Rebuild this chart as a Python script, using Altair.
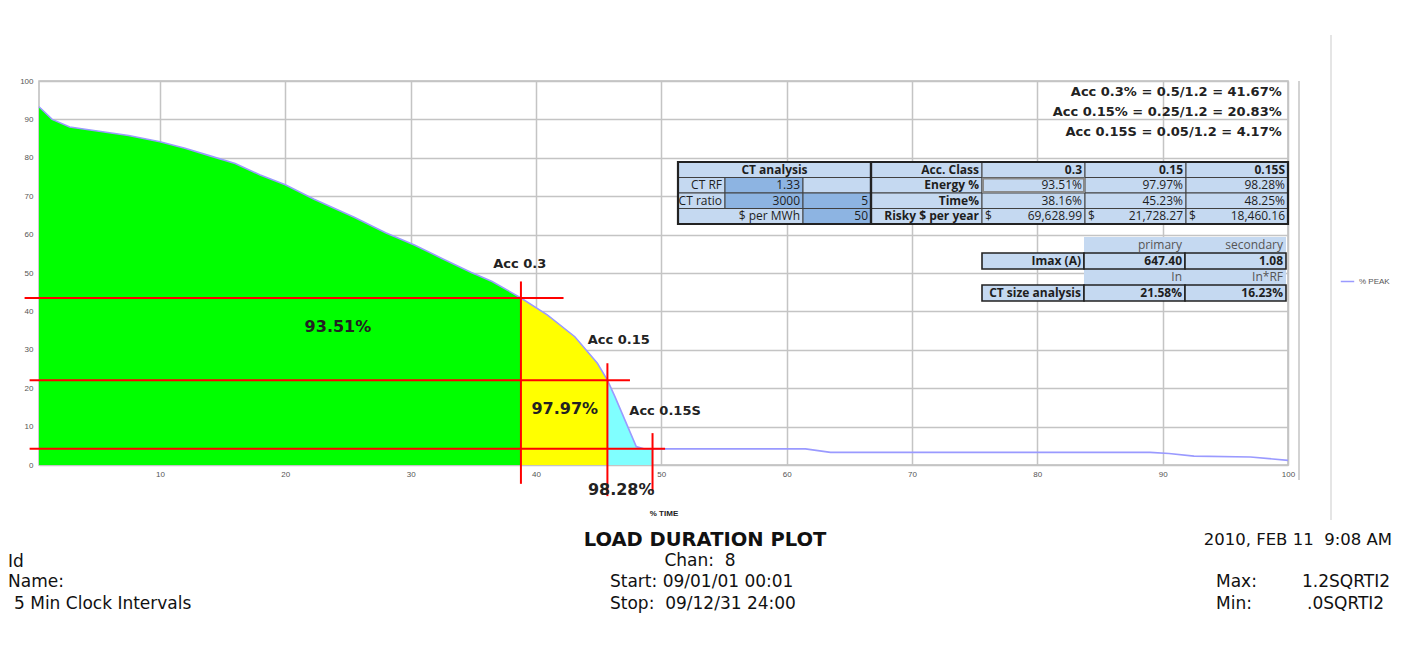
import altair as alt
import pandas as pd

# ---------------- data ----------------
pct_time = [0.35, 1.4, 2.8, 5, 7.5, 10, 12, 14, 16, 18, 20, 22.3, 25.5, 28, 30.3, 32.5,
            34.8, 36.5, 38.8, 40.9, 43.1, 44.9, 45.7, 46.3, 47.1, 48.0, 48.6, 49.3,
            60, 61.5, 63.5, 89, 90.5, 92.5, 97, 100]
pct_peak = [93.3, 90, 88, 87, 85.8, 84.2, 82.5, 80.5, 78.5, 75.5, 73, 69.2, 64.5, 60.5, 57.3, 53.8,
            50.2, 47.8, 43.5, 39.1, 33.4, 26.5, 22.1, 17.8, 11.7, 4.8, 4.2, 4.2,
            4.2, 4.2, 3.3, 3.3, 3.0, 2.3, 2.1, 1.2]

seg_names = ["Acc 0.3", "Acc 0.15", "Acc 0.15S"]
seg_start = [0.35, 38.8, 45.7]
seg_end = [38.8, 45.7, 49.3]
seg_colors = ["#00ff00", "#ffff00", "#80ffff"]

hline_y = [43.5, 22.1, 4.2]
hline_x0 = [-0.8, -0.4, -0.4]
hline_x1 = [42.2, 47.5, 50.3]
vline_x = [38.8, 45.7, 49.3]
vline_y0 = [47.8, 26.5, 8.3]
vline_y1 = [-4.9, -8.1, -6.8]

acc_labels = ["Acc 0.3", "Acc 0.15", "Acc 0.15S"]
acc_label_x = [38.7, 46.6, 50.3]
acc_label_y = [52.3, 32.6, 14.1]
energy_labels = ["93.51%", "97.97%", "98.28%"]
energy_label_x = [24.2, 42.3, 46.8]
energy_label_y = [35.9, 14.6, -6.5]

formula_lines = ["Acc 0.3% = 0.5/1.2 = 41.67%",
                 "Acc 0.15% = 0.25/1.2 = 20.83%",
                 "Acc 0.15S = 0.05/1.2 = 4.17%"]
formula_y = [97.1, 91.9, 86.7]

# table 1 content
t1_acc_classes = ["0.3", "0.15", "0.15S"]
t1_energy = ["93.51%", "97.97%", "98.28%"]
t1_time = ["38.16%", "45.23%", "48.25%"]
t1_risky = ["69,628.99", "21,728.27", "18,460.16"]
ct_rf = "1.33"
ct_ratio = ["3000", "5"]
usd_per_mwh = "50"

# table 2 content
t2_head = ["primary", "secondary"]
t2_imax = ["647.40", "1.08"]
t2_sub = ["In", "In*RF"]
t2_ctsize = ["21.58%", "16.23%"]

# ---------------- layout ----------------
X0, Y0 = 39, 81                 # page position of plot origin
W, H = 1249, 384
LIGHT, DARK, TXT = "#c5d9f1", "#8db4e2", "#1e1e1e"
TFONT = "Open Sans"
NB = "\u00a0"

xs = alt.Scale(domain=[0.35, 100], nice=False, zero=False)
ys = alt.Scale(domain=[0, 100], nice=False)

x_axis = alt.Axis(values=list(range(10, 101, 10)), grid=True, gridColor="#c4c4c4", gridWidth=1.5,
                  ticks=False, domain=False, labelFontSize=8, labelColor="#555",
                  labelFont="Liberation Sans", labelPadding=5, labelOverlap=False, labelFlush=False,
                  title="% TIME", titleFontSize=8, titleFont="Liberation Sans",
                  titleFontWeight="bold", titleColor="#222", titleY=48, titleBaseline="middle")
y_axis = alt.Axis(values=list(range(0, 101, 10)), grid=True, gridColor="#c4c4c4", gridWidth=1.5,
                  ticks=False, domain=False, labelFontSize=8, labelColor="#555",
                  labelFont="Liberation Sans", labelPadding=6, labelOverlap=False, labelFlush=False,
                  title=None)
XE = alt.X("x:Q", scale=xs, axis=x_axis)
YE = alt.Y("y:Q", scale=ys, axis=y_axis, stack=None)

curve = pd.DataFrame({"x": pct_time, "y": pct_peak, "series": "% PEAK"})
seg_frames = []
for n, a, b in zip(seg_names, seg_start, seg_end):
    d = curve[(curve.x >= a) & (curve.x <= b)].copy()
    d["seg"] = n
    seg_frames.append(d)
seg_df = pd.concat(seg_frames)

areas = alt.Chart(seg_df).mark_area(opacity=1).encode(
    x=XE, y=YE,
    fill=alt.Fill("seg:N", scale=alt.Scale(domain=seg_names, range=seg_colors), legend=None),
)

line = alt.Chart(curve).mark_line(strokeWidth=1.6).encode(
    x=XE, y=YE,
    stroke=alt.Stroke("series:N", scale=alt.Scale(domain=["% PEAK"], range=["#9a9aff"]),
                      legend=alt.Legend(title=None, orient="none", legendX=1301, legendY=193,
                                        symbolType="stroke", symbolSize=180, symbolStrokeWidth=1.5,
                                        labelFontSize=8, labelColor="#555", labelFont="Liberation Sans")),
)

hl = alt.Chart(pd.DataFrame({"y": hline_y, "x": hline_x0, "x2": hline_x1})).mark_rule(
    color="#ff0000", strokeWidth=2).encode(x=XE, x2="x2:Q", y=YE)
vl = alt.Chart(pd.DataFrame({"x": vline_x, "y": vline_y0, "y2": vline_y1})).mark_rule(
    color="#ff0000", strokeWidth=2).encode(x=XE, y=YE, y2="y2:Q")

acc_txt = alt.Chart(pd.DataFrame({"x": acc_label_x, "y": acc_label_y, "t": acc_labels})).mark_text(
    font="DejaVu Sans", fontWeight="bold", fontSize=13, color="#222").encode(x=XE, y=YE, text="t:N")
en_txt = alt.Chart(pd.DataFrame({"x": energy_label_x, "y": energy_label_y, "t": energy_labels})).mark_text(
    font="DejaVu Sans", fontWeight="bold", fontSize=16, color="#222").encode(x=XE, y=YE, text="t:N")
form_txt = alt.Chart(pd.DataFrame({"x": [99.5] * 3, "y": formula_y, "t": formula_lines})).mark_text(
    font="DejaVu Sans", fontWeight="bold", fontSize=13, color="#222", align="right").encode(
    x=XE, y=YE, text="t:N")

# ---------------- tables (pixel layout) ----------------
rects, texts = [], []


def cell(cols, rows, r, c0, c1, bg, stroke="#404040", sw=1.0):
    rects.append(dict(px=cols[c0] - X0, px2=cols[c1] - X0, py=rows[r] - Y0, py2=rows[r + 1] - Y0,
                      bg=bg, st=stroke, sw=sw))


def ctext(cols, rows, r, c0, c1, t, align="right", bold=False, color=TXT, size=12, font=TFONT):
    if align == "right":
        px = cols[c1] - 3
    elif align == "left":
        px = cols[c0] + 3
    else:
        px = (cols[c0] + cols[c1]) / 2
    texts.append(dict(px=px - X0, py=(rows[r] + rows[r + 1]) / 2 - Y0, t=t, align=align,
                      bold=bold, c=color, size=size, font=font))


c1s = [678, 725, 803, 871, 982, 1085, 1186, 1288]
r1s = [162, 177.5, 193, 208.5, 224]
cell(c1s, r1s, 0, 0, 3, LIGHT); ctext(c1s, r1s, 0, 0, 3, "CT analysis", "center", True)
cell(c1s, r1s, 0, 3, 4, LIGHT); ctext(c1s, r1s, 0, 3, 4, "Acc. Class", bold=True)
for i in range(3):
    cell(c1s, r1s, 0, 4 + i, 5 + i, LIGHT); ctext(c1s, r1s, 0, 4 + i, 5 + i, t1_acc_classes[i], bold=True)
cell(c1s, r1s, 1, 0, 1, LIGHT); ctext(c1s, r1s, 1, 0, 1, "CT RF")
cell(c1s, r1s, 1, 1, 2, DARK); ctext(c1s, r1s, 1, 1, 2, ct_rf)
cell(c1s, r1s, 1, 2, 3, LIGHT)
cell(c1s, r1s, 1, 3, 4, LIGHT); ctext(c1s, r1s, 1, 3, 4, "Energy %", bold=True)
cell(c1s, r1s, 2, 0, 1, LIGHT); ctext(c1s, r1s, 2, 0, 1, "CT ratio")
cell(c1s, r1s, 2, 1, 2, DARK); ctext(c1s, r1s, 2, 1, 2, ct_ratio[0])
cell(c1s, r1s, 2, 2, 3, DARK); ctext(c1s, r1s, 2, 2, 3, ct_ratio[1])
cell(c1s, r1s, 2, 3, 4, LIGHT); ctext(c1s, r1s, 2, 3, 4, "Time%", bold=True)
cell(c1s, r1s, 3, 0, 2, LIGHT); ctext(c1s, r1s, 3, 0, 2, "$ per MWh")
cell(c1s, r1s, 3, 2, 3, DARK); ctext(c1s, r1s, 3, 2, 3, usd_per_mwh)
cell(c1s, r1s, 3, 3, 4, LIGHT); ctext(c1s, r1s, 3, 3, 4, "Risky $ per year", bold=True)
for i in range(3):
    cell(c1s, r1s, 1, 4 + i, 5 + i, LIGHT); ctext(c1s, r1s, 1, 4 + i, 5 + i, t1_energy[i])
    cell(c1s, r1s, 2, 4 + i, 5 + i, LIGHT); ctext(c1s, r1s, 2, 4 + i, 5 + i, t1_time[i])
    cell(c1s, r1s, 3, 4 + i, 5 + i, LIGHT); ctext(c1s, r1s, 3, 4 + i, 5 + i, t1_risky[i])
    ctext(c1s, r1s, 3, 4 + i, 5 + i, "$", "left")
# thick outlines
rects.append(dict(px=c1s[0] - X0, px2=c1s[3] - X0, py=r1s[0] - Y0, py2=r1s[4] - Y0, bg="transparent", st="#222", sw=2.2))
rects.append(dict(px=c1s[3] - X0, px2=c1s[7] - X0, py=r1s[0] - Y0, py2=r1s[4] - Y0, bg="transparent", st="#222", sw=2.2))
rects.append(dict(px=c1s[4] - X0 + 1, px2=c1s[5] - X0 - 1, py=r1s[1] - Y0 + 1, py2=r1s[2] - Y0 - 1, bg="transparent", st="#8a8a8a", sw=2))

c2s = [982, 1084, 1185, 1286]
r2s = [237, 253, 269, 285, 301]
cell(c2s, r2s, 0, 1, 2, LIGHT, "transparent", 0); ctext(c2s, r2s, 0, 1, 2, t2_head[0], color="#555")
cell(c2s, r2s, 0, 2, 3, LIGHT, "transparent", 0); ctext(c2s, r2s, 0, 2, 3, t2_head[1], color="#555")
cell(c2s, r2s, 2, 1, 2, LIGHT, "transparent", 0); ctext(c2s, r2s, 2, 1, 2, t2_sub[0], color="#555")
cell(c2s, r2s, 2, 2, 3, LIGHT, "transparent", 0); ctext(c2s, r2s, 2, 2, 3, t2_sub[1], color="#555")
cell(c2s, r2s, 1, 0, 1, LIGHT, "#222", 1.6); ctext(c2s, r2s, 1, 0, 1, "Imax (A)", bold=True)
cell(c2s, r2s, 3, 0, 1, LIGHT, "#222", 1.6); ctext(c2s, r2s, 3, 0, 1, "CT size analysis", bold=True)
for i in range(2):
    cell(c2s, r2s, 1, 1 + i, 2 + i, LIGHT, "#222", 1.6); ctext(c2s, r2s, 1, 1 + i, 2 + i, t2_imax[i], bold=True)
    cell(c2s, r2s, 3, 1 + i, 2 + i, LIGHT, "#222", 1.6); ctext(c2s, r2s, 3, 1 + i, 2 + i, t2_ctsize[i], bold=True)

# ---------------- footer ----------------
FF = "DejaVu Sans"
footer = [
    ("LOAD DURATION PLOT", 705, 540, "center", True, 19.5),
    ("Chan:" + NB + " 8", 700, 561, "center", False, 17),
    ("Start: 09/01/01 00:01", 610, 582, "left", False, 17),
    ("Stop:" + NB + " 09/12/31 24:00", 610, 604, "left", False, 17),
    ("Id", 8, 562, "left", False, 17),
    ("Name:", 8, 582, "left", False, 17),
    ("5 Min Clock Intervals", 14, 604, "left", False, 17),
    ("2010, FEB 11" + NB + " 9:08 AM", 1392, 540, "right", False, 16.5),
    ("Max:", 1216, 582, "left", False, 17),
    ("1.2SQRTI2", 1302, 582, "left", False, 17),
    ("Min:", 1216, 604, "left", False, 17),
    (".0SQRTI2", 1307, 604, "left", False, 17),
]
for t, x, y, al, b, s in footer:
    texts.append(dict(px=x - X0, py=y - Y0, t=t, align=al, bold=b, c="#111", size=s, font=FF))

rect_df = pd.DataFrame(rects)
rect_layer = alt.Chart(rect_df).mark_rect().encode(
    x=alt.X("px:Q", scale=None, axis=None), x2="px2:Q",
    y=alt.Y("py:Q", scale=None, axis=None), y2="py2:Q",
    fill=alt.Fill("bg:N", scale=None), stroke=alt.Stroke("st:N", scale=None),
    strokeWidth=alt.StrokeWidth("sw:Q", scale=None))

txt_df = pd.DataFrame(texts)
text_layers = []
for (al, b, f, s), g in txt_df.groupby(["align", "bold", "font", "size"]):
    text_layers.append(alt.Chart(g).mark_text(
        align=al, baseline="middle", fontWeight="bold" if b else "normal", font=f, fontSize=float(s)).encode(
        x=alt.X("px:Q", scale=None, axis=None), y=alt.Y("py:Q", scale=None, axis=None),
        text="t:N", color=alt.Color("c:N", scale=None)))

frames = alt.Chart(pd.DataFrame({"px": [1299 - X0, 1331 - X0], "py": [0, 35 - Y0],
                                 "py2": [480 - Y0, 520 - Y0], "c": ["#c4c4c4", "#dcdcdc"]})).mark_rule(
    strokeWidth=1.5).encode(x=alt.X("px:Q", scale=None, axis=None), y=alt.Y("py:Q", scale=None, axis=None),
                            y2="py2:Q", color=alt.Color("c:N", scale=None))

chart = alt.layer(areas, line, hl, vl, acc_txt, en_txt, form_txt, frames, rect_layer, *text_layers).properties(
    width=W, height=H,
    autosize=alt.AutoSizeParams(type="none"),
    padding={"left": X0 - 8, "top": Y0 - 8, "right": 108, "bottom": 170},
    background="white",
).configure_view(stroke="#bdbdbd", strokeWidth=1.5)

chart.save("out.html", embed_options={"renderer": "svg", "actions": False})
